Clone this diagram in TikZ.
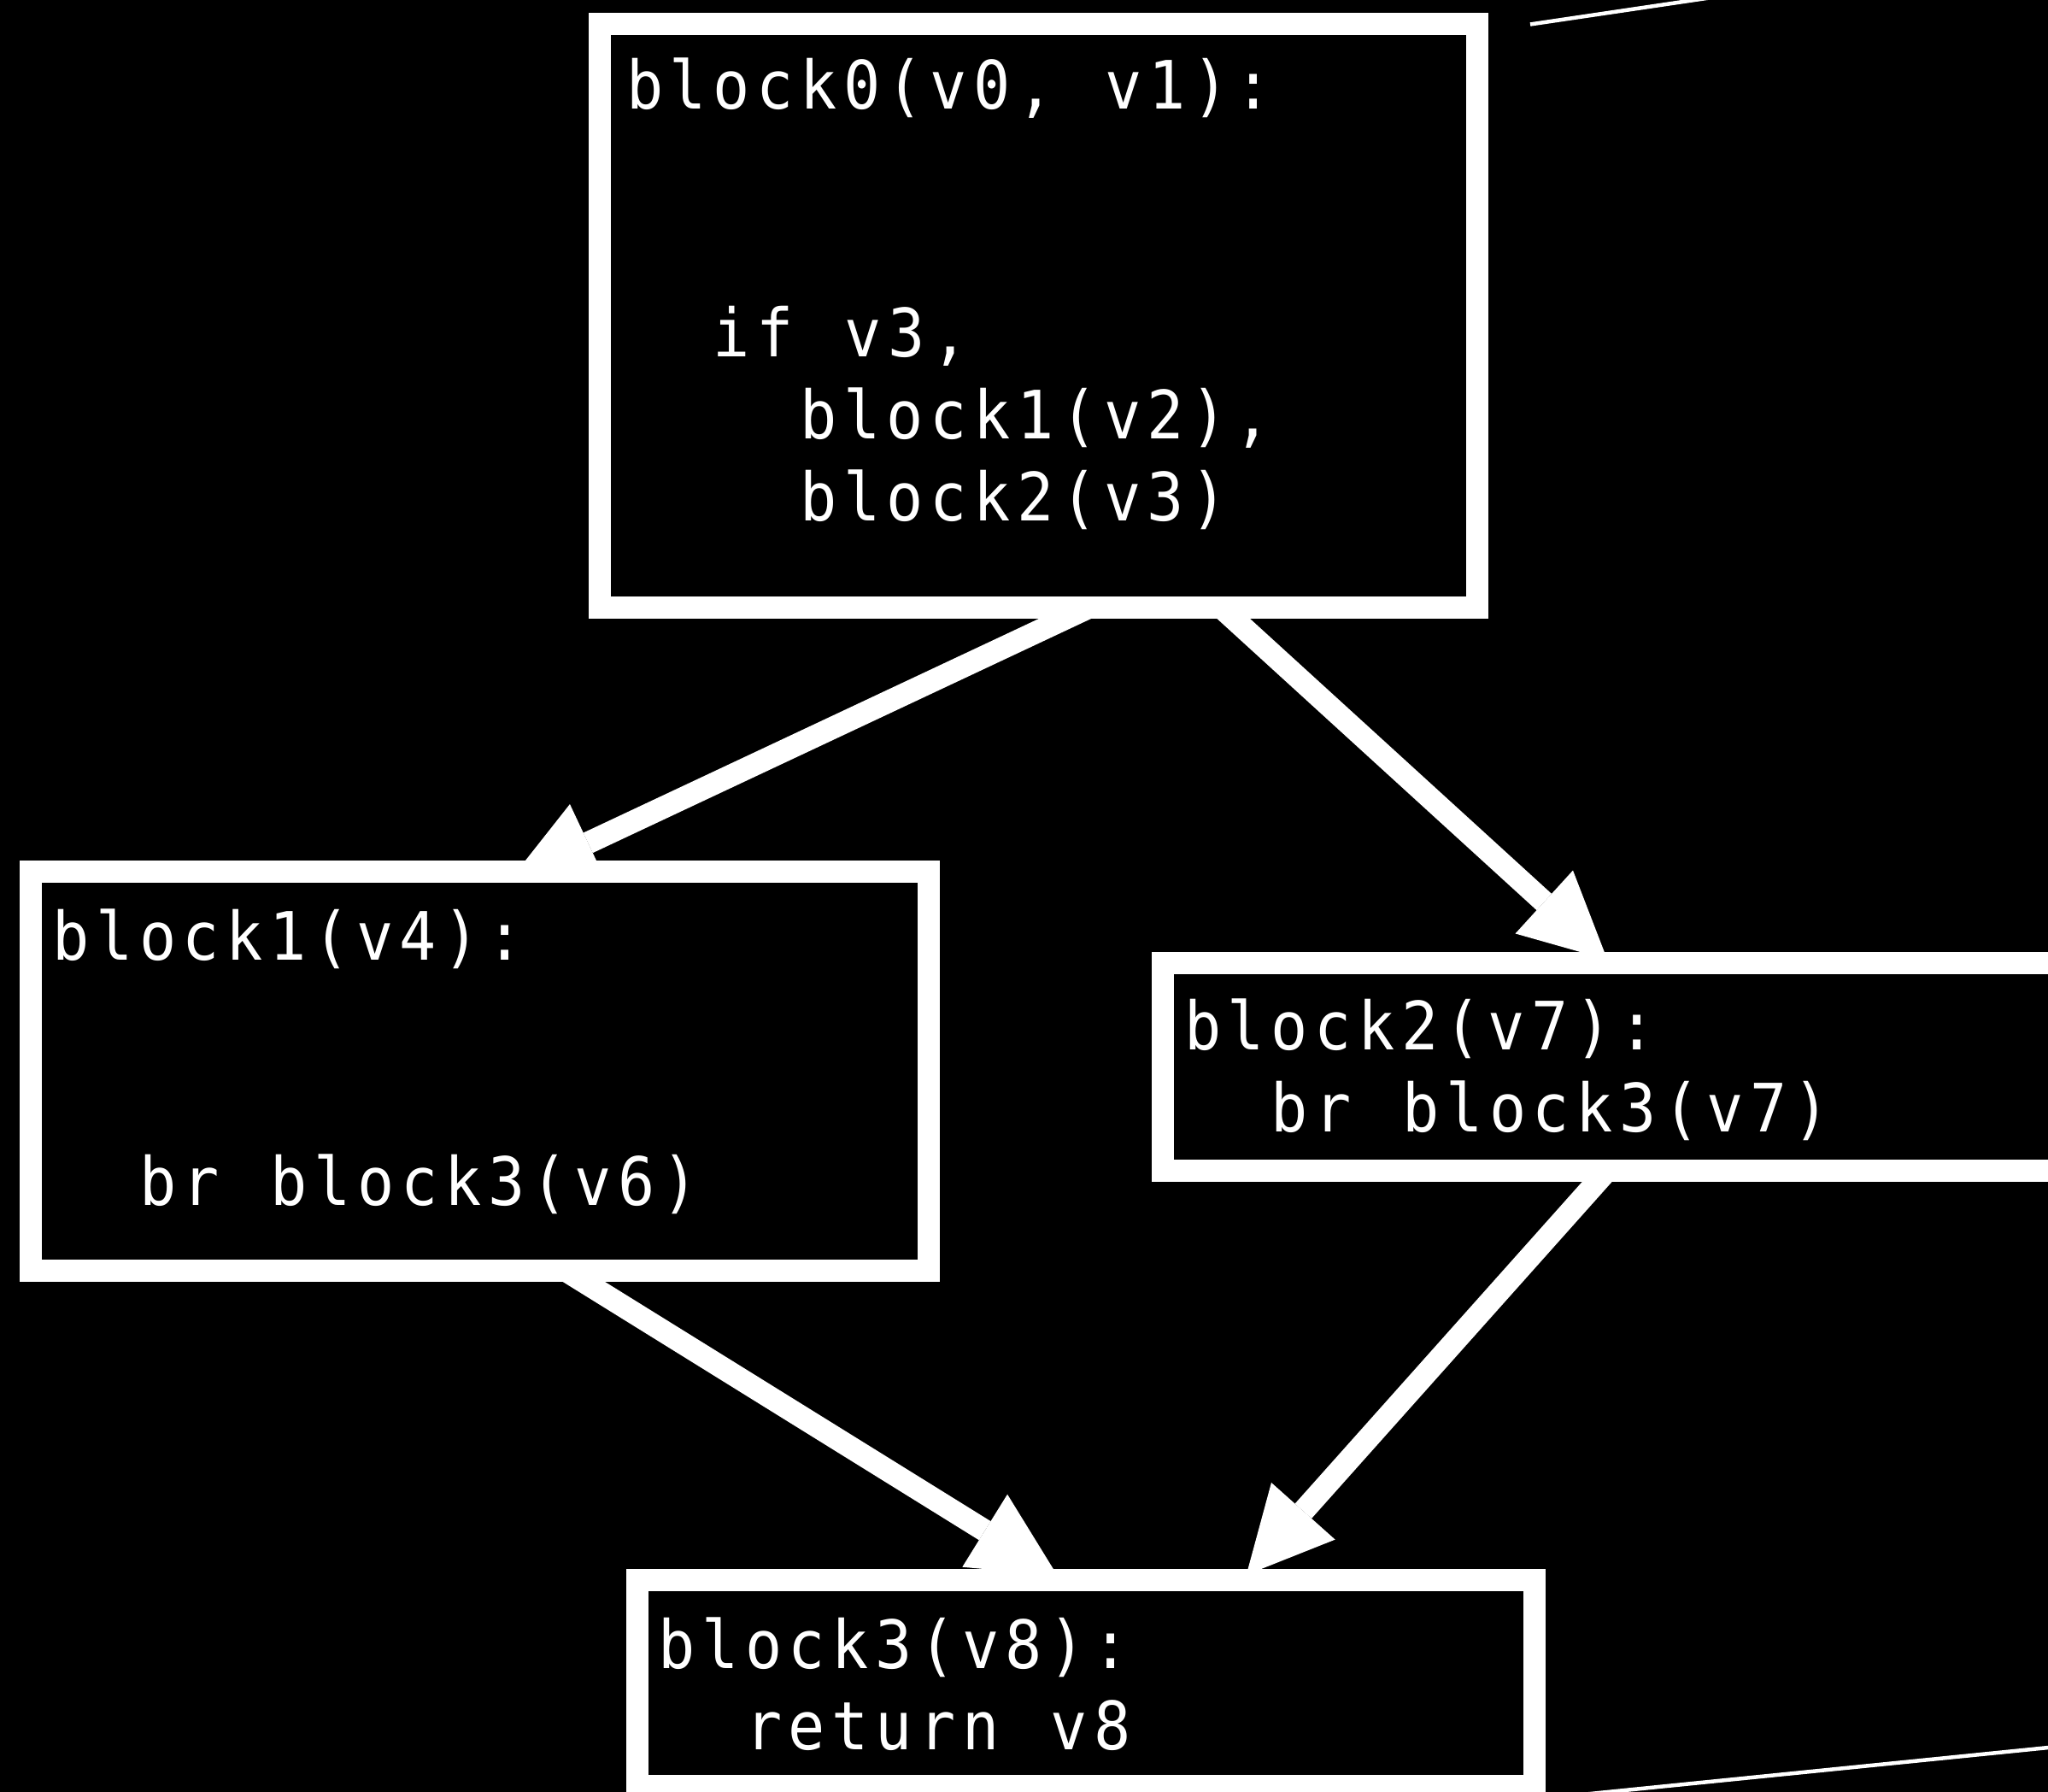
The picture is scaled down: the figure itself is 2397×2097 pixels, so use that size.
\documentclass[tikz,border=0pt]{standalone}
\usepackage{fontspec}
\newfontfamily\codefont[FakeStretch=0.92,LetterSpace=9.74,WordSpace=1.176]{DejaVu Sans Mono}
\usetikzlibrary{arrows.meta,calc}
\pgfdeclarelayer{back}
\pgfdeclarelayer{arrowlayer}
\pgfsetlayers{back,arrowlayer,main}
\newcommand\indtwo{\hspace*{1.016cm}}
\newcommand\indfour{\hspace*{2.032cm}}
\tikzset{
  blk/.style={draw=white, fill=black, line width=0.26cm, rectangle, inner sep=0pt, outer sep=0pt},
  code/.style={text=white, font=\codefont\fontsize{22.19pt}{26pt}\selectfont, anchor=base west, inner sep=0pt, outer sep=0pt},
  flow/.style={draw=white, line width=0.26cm, -{Triangle[length=1cm,width=1cm,line width=0pt]}},
  edgeline/.style={draw=white, line width=0.045cm},
}
\begin{document}
\begin{tikzpicture}[x=0.01cm,y=-0.01cm]
\useasboundingbox (0,0) rectangle (2397,2097);
\begin{pgfonlayer}{back}
\fill[black] (0,0) rectangle (2397,2097);
\end{pgfonlayer}
% blocks
\node[blk, minimum width=10.27cm, minimum height=6.83cm] (b0) at (1215.5,369.5) {};
\node[blk, minimum width=10.51cm, minimum height=4.67cm] (b1) at (561.5,1253.5) {};
\node[blk, minimum width=11cm, minimum height=2.43cm] (b2) at (1911,1248.5) {};
\node[blk, minimum width=10.5cm, minimum height=2.41cm] (b3) at (1271,1969.5) {};
% text
\node[code] (t0a) at (733,128) {block0(v0, v1):};
\node[code] (t0b) at (733,417) {\indtwo if v3,};
\node[code] (t0c) at (733,513) {\indfour block1(v2),};
\node[code] (t0d) at (733,609) {\indfour block2(v3)};
\node[code] (t1a) at (61.5,1123) {block1(v4):};
\node[code] (t1b) at (61.5,1410) {\indtwo br block3(v6)};
\node[code] (t2a) at (1386,1228) {block2(v7):};
\node[code] (t2b) at (1386,1324) {\indtwo br block3(v7)};
\node[code] (t3a) at (770.5,1952) {block3(v8):};
\node[code] (t3b) at (770.5,2047) {\indtwo return v8};
% connectors
\begin{pgfonlayer}{arrowlayer}
\draw[flow] ($(b0.south west)+(572,0)$) -- ($(b1.north west)+(562,9)$);
\draw[flow] ($(b0.south west)+(728,0)$) -- ($(b2.north west)+(520.5,-4)$);
\draw[flow] ($(b1.south west)+(627,0)$) -- ($(b3.north west)+(492,-5)$);
\draw[flow] ($(b2.south west)+(520,0)$) -- ($(b3.north west)+(713,-6)$);
\end{pgfonlayer}
% partial edges running off the picture
\coordinate (e1) at (1791,28.5);
\coordinate (e2) at (2070,-12.8);
\draw[edgeline] (e1) -- (e2);
\coordinate (e3) at (1780,2107.2);
\coordinate (e4) at (2460,2038.7);
\draw[edgeline] (e3) -- (e4);
\end{tikzpicture}
\end{document}
